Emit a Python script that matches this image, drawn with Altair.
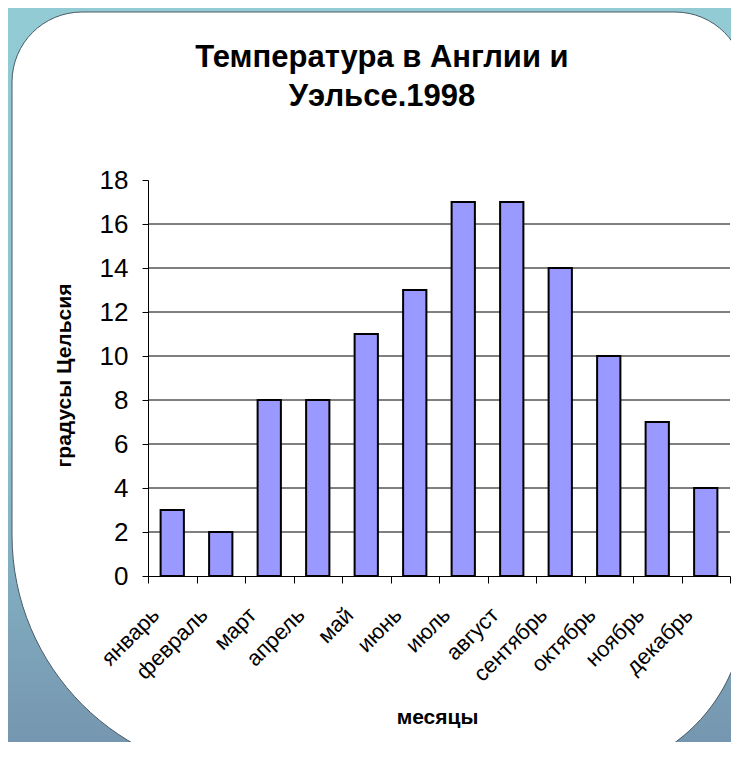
import altair as alt
import pandas as pd

months = ["январь", "февраль", "март", "апрель", "май", "июнь",
          "июль", "август", "сентябрь", "октябрь", "ноябрь", "декабрь"]
temps = [3, 2, 8, 8, 11, 13, 17, 17, 14, 10, 7, 4]
y_ticks = [0, 2, 4, 6, 8, 10, 12, 14, 16, 18]
grid_values = [2, 4, 6, 8, 10, 12, 14, 16]
title_lines = ["Температура в Англии и", "Уэльсе.1998"]
y_title = "градусы Цельсия"
x_title = "месяцы"

df = pd.DataFrame({"month": months, "temp": temps})
grid_df = pd.DataFrame({"g": grid_values})
FONT = "Liberation Sans"
one = pd.DataFrame({"p": [0]})

backdrop = alt.Chart(one).mark_rect(
    fill=alt.Gradient(
        gradient="linear", x1=0, y1=0, x2=0, y2=1,
        stops=[alt.GradientStop(color="#92cbd3", offset=0),
               alt.GradientStop(color="#8cc3cf", offset=0.55),
               alt.GradientStop(color="#7595af", offset=1)],
    ),
).encode(
    x=alt.value(-140), x2=alt.value(592),
    y=alt.value(-172), y2=alt.value(570),
)

panel = alt.Chart(one).mark_rect(
    fill="white", stroke="#4a5a66", strokeWidth=1,
    cornerRadiusTopLeft=70, cornerRadiusTopRight=70,
    cornerRadiusBottomLeft=240, cornerRadiusBottomRight=170,
).encode(
    x=alt.value(-136), x2=alt.value(597),
    y=alt.value(-168), y2=alt.value(595),
)

grid = alt.Chart(grid_df).mark_rule(color="black", strokeWidth=1).encode(
    y=alt.Y("g:Q", scale=alt.Scale(domain=[0, 18], nice=False))
)

bars = alt.Chart(df).mark_bar(
    width=alt.RelativeBandSize(0.48),
    fill="#9999ff", stroke="black", strokeWidth=2,
).encode(
    x=alt.X("month:N", sort=months,
            scale=alt.Scale(paddingInner=0, paddingOuter=0),
            axis=alt.Axis(
                title=x_title, titleFont=FONT, titleFontSize=21, titleFontWeight="bold",
                titleColor="black", titleX=289, titleY=141, titleBaseline="middle",
                titleAlign="center",
                labelAngle=-45, labelAlign="right", labelBaseline="middle",
                labelFont=FONT, labelFontSize=22, labelColor="black",
                labelPadding=28, labelOffset=-17,
                tickBand="extent", tickSize=7, tickColor="black", tickWidth=1,
                domainColor="black", domainWidth=1, grid=False, zindex=1,
            )),
    y=alt.Y("temp:Q",
            scale=alt.Scale(domain=[0, 18], nice=False),
            axis=alt.Axis(
                values=y_ticks, title=y_title, titleFont=FONT, titleFontSize=21,
                titleFontWeight="bold", titleColor="black",
                titleX=-84, titleY=195, titleBaseline="middle", titleAlign="center",
                labelFont=FONT, labelFontSize=26, labelColor="black", labelPadding=14,
                tickSize=6, tickColor="black", domainColor="black",
                grid=False, zindex=1,
            )),
)

chart = alt.layer(backdrop, panel, grid, bars).properties(
    width=582, height=396,
    autosize=alt.AutoSizeParams(type="none"),
    padding={"left": 140, "top": 172, "right": 1, "bottom": 166},
    background="#8fc6cf",
    title=alt.TitleParams(
        text=title_lines, font=FONT, fontSize=31, fontWeight="bold", color="black",
        anchor="middle", dx=-57, offset=0, dy=105, lineHeight=39, frame="group",
    ),
).configure_view(strokeWidth=0)

chart.save("out.html", embed_options={"renderer": "svg", "actions": False})
